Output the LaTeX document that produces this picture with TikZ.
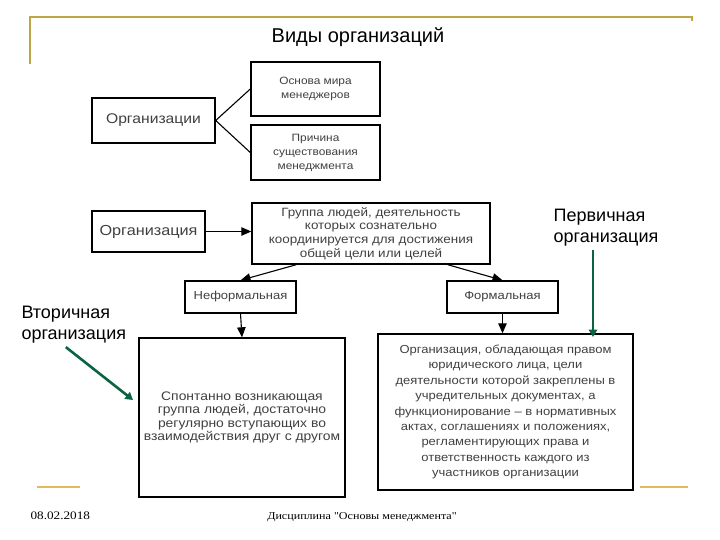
\documentclass[tikz,border=0pt]{standalone}
\usepackage{fontspec}
\setmainfont{Liberation Sans}
\newfontfamily\boxfont[FakeStretch=1.12]{Liberation Sans}
\newfontfamily\footfont[FakeStretch=1.15]{Liberation Serif}
\usetikzlibrary{arrows.meta,positioning,calc}
\definecolor{framegold}{RGB}{190,165,70}
\definecolor{linegold}{RGB}{225,185,95}
\definecolor{arrgreen}{RGB}{10,100,65}

\begin{document}
\begin{tikzpicture}[x=1pt,y=-1pt,
  box/.style={draw,line width=1.4pt,align=center,inner sep=2pt,text=black!75,font=\boxfont\fontsize{11.6}{14}\selectfont},
  conn/.style={line width=1.1pt,-{Triangle[length=10pt,width=8.5pt]}},
  hint/.style={line width=2.6pt,arrgreen,-{Triangle[length=7.5pt,width=8.5pt]}},
  lbl/.style={align=left,font=\fontsize{18}{21}\selectfont}]
\useasboundingbox (0,0) rectangle (720,540);
% frame
\draw[framegold,line width=1.8pt] (30,64) -- (30,17) -- (692,17) -- (692,21);
\draw[linegold,line width=2.4pt] (37,487) -- (80,487);
\draw[linegold,line width=2.4pt] (640,487) -- (688,487);
\node (title) at (358,37) {\fontsize{20}{22}\selectfont Виды организаций};
% upper part
\node[box,minimum width=123pt,minimum height=45pt,font=\boxfont\fontsize{14}{16}\selectfont] (orgs) at (153.5,120.5) {Организации};
\node[box,minimum width=129pt,minimum height=54pt,font=\boxfont\fontsize{10.6}{14}\selectfont] (osnova) at (315.5,89) {Основа мира\\менеджеров};
\node[box,minimum width=129pt,minimum height=55pt,font=\boxfont\fontsize{10.6}{14}\selectfont] (prichina) at (315.5,152.5) {Причина\\существования\\менеджмента};
\draw[line width=1.1pt] (osnova.west) -- (orgs.east) -- (prichina.west);
% definition
\node[box,minimum width=113pt,minimum height=41pt,font=\boxfont\fontsize{14.5}{16}\selectfont] (org) at (148.5,231.5) {Организация};
\node[box,minimum width=238pt,minimum height=61pt,font=\boxfont\fontsize{12}{13.8}\selectfont] (gruppa) at (371,233.5) {Группа людей, деятельность\\которых сознательно\\координируется для достижения\\общей цели или целей};
\draw[conn] (org.east) -- (org.east -| gruppa.west);
\node[box,minimum width=111pt,minimum height=32pt] (neform) at (240.5,297) {Неформальная};
\node[box,minimum width=111pt,minimum height=32pt] (form) at (502.5,297) {Формальная};
\draw[conn] ([xshift=45pt]gruppa.south west) -- (neform.north);
\draw[conn] ([xshift=-43pt]gruppa.south east) -- (form.north);
% bottom boxes
\node[box,minimum width=206pt,minimum height=159pt,font=\boxfont\fontsize{12.4}{13.6}\selectfont] (sponta) at (242,417.5) {Спонтанно возникающая\\группа людей, достаточно\\регулярно вступающих во\\взаимодействия друг с другом};
\node[box,minimum width=255pt,minimum height=156pt,font=\boxfont\fontsize{11.6}{15.4}\selectfont] (jurid) at (505.5,412) {Организация, обладающая правом\\юридического лица, цели\\деятельности которой закреплены в\\учредительных документах, а\\функционирование – в нормативных\\актах, соглашениях и положениях,\\регламентирующих права и\\ответственность каждого из\\участников организации};
\draw[conn] (neform.south) -- (sponta.north);
\draw[conn] (form.south) -- (form.south |- jurid.north);
% hints
\node[lbl] (perv) at (606,228) {Первичная\\организация};
\coordinate (pend) at (593,337);
\draw[hint] (perv.south -| pend) -- (pend);
\node[lbl,anchor=west] (vtor) at (18,325) {Вторичная\\организация};
\coordinate (vend) at (133,400);
\draw[hint] ([xshift=-8pt]vtor.south) -- (vend);
% footer
\node[anchor=west,font=\footfont\fontsize{11.5}{13}\selectfont] (date) at (27,516) {08.02.2018};
\node[font=\footfont\fontsize{10.5}{13}\selectfont] (disc) at (362,517) {Дисциплина "Основы менеджмента"};
\end{tikzpicture}
\end{document}
